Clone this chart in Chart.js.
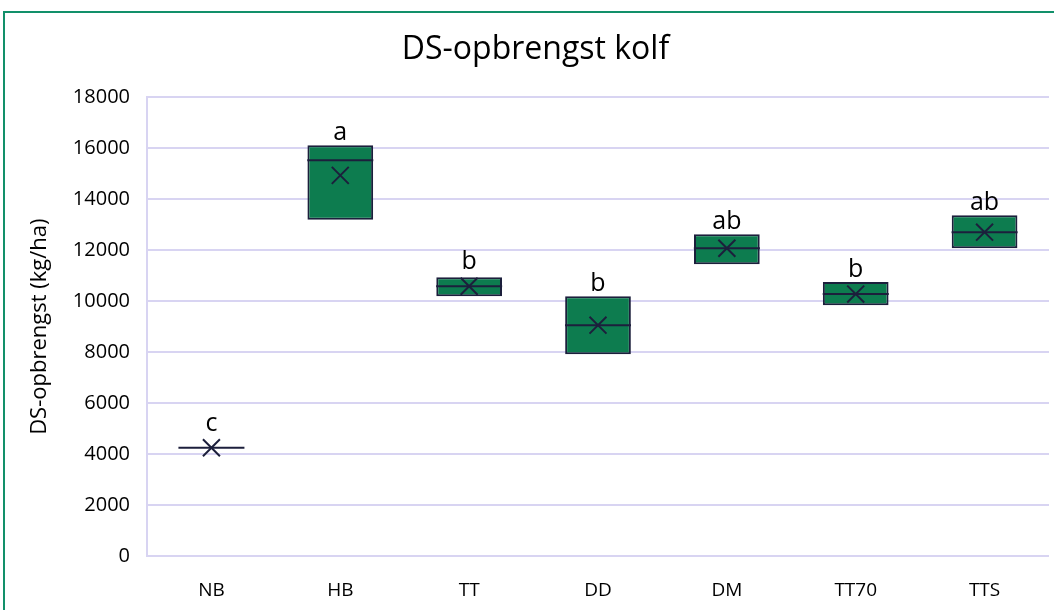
<!DOCTYPE html>
<html lang="no">
<head>
    <meta charset="UTF-8">
    <title>DS-opbrengst kolf</title>
    <script src="https://cdn.jsdelivr.net/npm/chart.js"></script>
    <style>
        body { margin: 0; overflow: hidden; background: #fff; }
        .ramme {
            position: absolute; left: 3px; top: 11px;
            width: 1090px; height: 640px;
            border: 2px solid #12906a;
        }
        #kolf { position: absolute; left: 0; top: 0; }
    </style>
</head>
<body>
    <div class="ramme"></div>
    <canvas id="kolf" width="1066" height="610"></canvas>
<script>
    // data lest av bildet
    var behandlinger = ['NB', 'HB', 'TT', 'DD', 'DM', 'TT70', 'TTS'];
    var minVerdi = [4250, 13200, 10200, 7920, 11450, 9840, 12080];
    var maksVerdi = [4250, 16120, 10940, 10200, 12630, 10750, 13370];
    var median = [4250, 15530, 10590, 9060, 12080, 10280, 12710];
    var snitt = [4250, 14940, 10590, 9060, 12080, 10280, 12710];
    var bokstaver = ['c', 'a', 'b', 'b', 'ab', 'b', 'ab'];
    var yTicks = [0, 2000, 4000, 6000, 8000, 10000, 12000, 14000, 16000, 18000];

    var fontNavn = "'Open Sans', sans-serif";
    var mork = '#1c1f3c';

    // bokstaver over boksene
    var bokstavPlugin = {
        id: 'bokstaver',
        afterDatasetsDraw: function (chart) {
            var ctx = chart.ctx;
            var x = chart.scales.x;
            var y = chart.scales.y;
            ctx.save();
            ctx.font = '25px ' + fontNavn;
            ctx.fillStyle = '#000';
            ctx.textAlign = 'center';
            ctx.textBaseline = 'alphabetic';
            bokstaver.forEach(function (b, i) {
                var topp = Math.min(y.getPixelForValue(maksVerdi[i]), y.getPixelForValue(snitt[i]) - 12);
                ctx.fillText(b, x.getPixelForValue(i), topp - 5);
            });
            ctx.restore();
        }
    };

    var kolf = new Chart(document.getElementById('kolf').getContext('2d'), {
        data: {
            labels: behandlinger,
            datasets: [{
                type: 'bar',
                label: 'Boks',
                data: behandlinger.map(function (b, i) { return [minVerdi[i], maksVerdi[i]]; }),
                backgroundColor: '#0d7c4f',
                borderColor: mork,
                borderWidth: 2,
                borderSkipped: false,
                categoryPercentage: 1,
                barPercentage: 0.51,
                order: 3
            }, {
                type: 'line',
                label: 'Median',
                data: median,
                showLine: false,
                pointStyle: 'line',
                pointRadius: 33,
                pointHoverRadius: 33,
                borderColor: mork,
                borderWidth: 2,
                order: 2
            }, {
                type: 'line',
                label: 'Snitt',
                data: snitt,
                showLine: false,
                pointStyle: 'crossRot',
                pointRadius: 12,
                pointHoverRadius: 12,
                borderColor: mork,
                borderWidth: 2,
                order: 1
            }]
        },
        options: {
            responsive: false,
            animation: false,
            // autoPadding av, ellers krymper de store punktene plottet
            layout: { autoPadding: false, padding: { left: 22, right: 17, top: 0, bottom: 0 } },
            plugins: {
                legend: { display: false },
                tooltip: { enabled: false },
                title: {
                    display: true,
                    text: 'DS-opbrengst kolf',
                    color: '#000',
                    font: { family: fontNavn, size: 32, weight: 'normal' },
                    padding: { top: 31, bottom: 28 }
                }
            },
            scales: {
                x: {
                    grid: { display: false },
                    border: { display: false },
                    afterFit: function (akse) { akse.height = 54; },
                    ticks: { color: '#000', font: { family: fontNavn, size: 19 }, padding: 15, maxRotation: 0, minRotation: 0 }
                },
                y: {
                    min: 0,
                    max: 18000,
                    afterBuildTicks: function (akse) {
                        akse.ticks = yTicks.map(function (v) { return { value: v }; });
                    },
                    afterFit: function (akse) { akse.width = 125; },
                    grid: { color: '#d8d4f2', lineWidth: 2, drawTicks: false },
                    border: { display: true, color: '#d8d4f2', width: 2 },
                    ticks: {
                        color: '#000',
                        font: { family: fontNavn, size: 20 },
                        padding: 17,
                        callback: function (v) { return String(v); }
                    },
                    title: {
                        display: true,
                        text: 'DS-opbrengst (kg/ha)',
                        color: '#000',
                        font: { family: fontNavn, size: 22 },
                        padding: { top: 5, bottom: 6 }
                    }
                }
            }
        },
        plugins: [bokstavPlugin]
    });
</script>
</body>
</html>
